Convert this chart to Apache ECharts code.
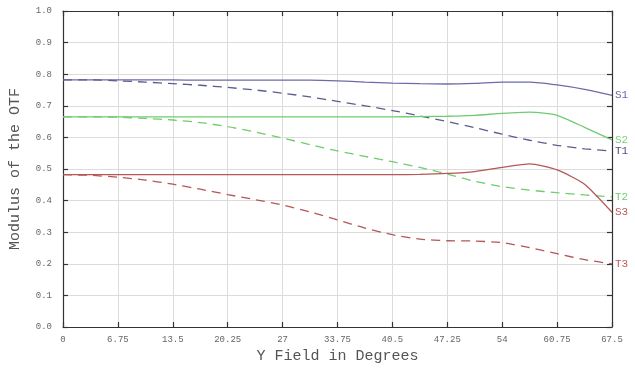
<!DOCTYPE html>
<html>
<head>
<meta charset="utf-8">
<script src="https://cdn.jsdelivr.net/npm/echarts@6/dist/echarts.min.js"></script>
<style>html,body{margin:0;padding:0;background:#fff;}#c{width:635px;height:369px;}</style>
</head>
<body>
<div id="c"></div>
<script>
var xField = [0, 3.375, 6.75, 10.125, 13.5, 16.875, 20.25, 23.625, 27, 30.375, 33.75, 37.125, 40.5, 43.875, 47.25, 50.625, 54, 57.375, 60.75, 64.125, 67.5];
var S1 = [0.782, 0.782, 0.782, 0.782, 0.782, 0.781, 0.781, 0.781, 0.781, 0.781, 0.779, 0.775, 0.772, 0.770, 0.769, 0.771, 0.775, 0.775, 0.766, 0.752, 0.733];
var T1 = [0.782, 0.782, 0.779, 0.775, 0.770, 0.765, 0.758, 0.750, 0.740, 0.728, 0.714, 0.700, 0.685, 0.668, 0.650, 0.631, 0.610, 0.591, 0.575, 0.564, 0.557];
var S2 = [0.665, 0.665, 0.665, 0.665, 0.665, 0.665, 0.665, 0.665, 0.665, 0.665, 0.665, 0.665, 0.665, 0.666, 0.667, 0.670, 0.676, 0.680, 0.670, 0.632, 0.592];
var T2 = [0.665, 0.665, 0.664, 0.660, 0.655, 0.647, 0.634, 0.617, 0.598, 0.577, 0.557, 0.540, 0.523, 0.505, 0.484, 0.461, 0.444, 0.433, 0.425, 0.418, 0.412];
var S3 = [0.482, 0.482, 0.482, 0.482, 0.482, 0.482, 0.482, 0.482, 0.482, 0.482, 0.482, 0.482, 0.482, 0.483, 0.486, 0.492, 0.505, 0.516, 0.497, 0.452, 0.363];
var T3 = [0.482, 0.480, 0.474, 0.465, 0.452, 0.436, 0.419, 0.403, 0.386, 0.364, 0.339, 0.313, 0.292, 0.278, 0.273, 0.272, 0.267, 0.251, 0.232, 0.213, 0.200];
var xTicks = [0, 6.75, 13.5, 20.25, 27, 33.75, 40.5, 47.25, 54, 60.75, 67.5];

var seriesDefs = [
  {name: 'S1', data: S1, color: '#6b6ba8', dash: false, label: '#6b6ba8'},
  {name: 'T1', data: T1, color: '#5c5c8e', dash: true, label: '#4e4e80'},
  {name: 'S2', data: S2, color: '#6fcc6f', dash: false, label: '#7ccf7c'},
  {name: 'T2', data: T2, color: '#6fcc6f', dash: true, label: '#6fcc6f'},
  {name: 'S3', data: S3, color: '#b65656', dash: false, label: '#c05a5a'},
  {name: 'T3', data: T3, color: '#b65656', dash: true, label: '#c05a5a'}
];

var font = '"Liberation Mono", "DejaVu Sans Mono", monospace';
var chart = echarts.init(document.getElementById('c'), null, {renderer: 'canvas'});

function axisCommon() {
  return {
    axisLine: {show: true, onZero: false, lineStyle: {color: '#333', width: 1.2}},
    axisTick: {show: true, inside: true, length: 5, lineStyle: {color: '#333', width: 1.2}},
    splitLine: {show: false}
  };
}

var xBottom = Object.assign(axisCommon(), {
  type: 'value', position: 'bottom', min: 0, max: 67.5, interval: 6.75,
  name: 'Y Field in Degrees', nameLocation: 'middle', nameGap: 21,
  nameTextStyle: {fontFamily: font, fontSize: 15, color: '#555'},
  axisLabel: {fontFamily: font, fontSize: 9, color: '#666', margin: 8,
    formatter: function (v) { return xTicks.indexOf(v) >= 0 ? String(v) : ''; }},
  splitLine: {show: true, lineStyle: {color: '#dcdcdc', width: 1}}
});
var xTop = Object.assign(axisCommon(), {
  type: 'value', position: 'top', min: 0, max: 67.5, interval: 6.75,
  axisLabel: {show: false}
});
var yLeft = Object.assign(axisCommon(), {
  type: 'value', position: 'left', min: 0, max: 1, interval: 0.1,
  name: 'Modulus of the OTF', nameLocation: 'middle', nameGap: 40, nameRotate: 90,
  nameTextStyle: {fontFamily: font, fontSize: 15, color: '#555'},
  axisLabel: {fontFamily: font, fontSize: 9, color: '#666', margin: 11,
    formatter: function (v) { return v.toFixed(1); }},
  splitLine: {show: true, lineStyle: {color: '#dcdcdc', width: 1}}
});
var yRight = Object.assign(axisCommon(), {
  type: 'value', position: 'right', min: 0, max: 1, interval: 0.1,
  axisLabel: {show: false}
});

var series = seriesDefs.map(function (d) {
  return {
    name: d.name, type: 'line', xAxisIndex: 0, yAxisIndex: 0,
    data: xField.map(function (x, i) { return [x, d.data[i]]; }),
    showSymbol: false, symbol: 'none', smooth: 0.2, silent: true,
    lineStyle: {color: d.color, width: 1.3, type: d.dash ? [9, 6] : 'solid'},
    endLabel: {show: true, formatter: d.name, color: d.label, fontFamily: font, fontSize: 11, distance: 3},
    animation: false
  };
});

chart.setOption({
  animation: false,
  backgroundColor: '#fff',
  grid: {left: 61, right: 23, top: 11, bottom: 42},
  xAxis: [xBottom, xTop],
  yAxis: [yLeft, yRight],
  series: series
});
</script>
</body>
</html>
